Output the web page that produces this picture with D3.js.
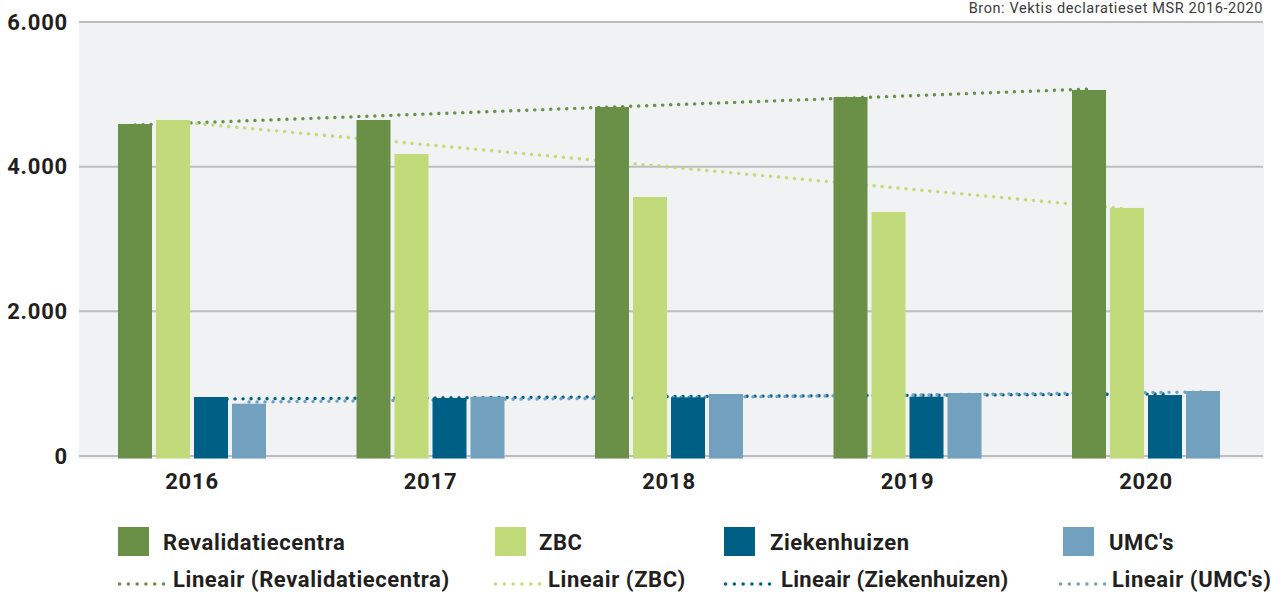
<!DOCTYPE html>
<html>
<head>
<meta charset="utf-8">
<script src="https://cdn.jsdelivr.net/npm/d3@7"></script>
<style>
  body { margin: 0; background: #fff; }
  svg { display: block; font-family: Roboto, "Noto Sans", sans-serif; }
</style>
</head>
<body>
<div id="chart"></div>
<script>
// data
const years = ["2016", "2017", "2018", "2019", "2020"];
const series = ["Revalidatiecentra", "ZBC", "Ziekenhuizen", "UMC's"];
const revalidatiecentra = [4590, 4645, 4825, 4963, 5060];
const zbc = [4645, 4175, 3581, 3373, 3429];
const ziekenhuizen = [816, 802, 811, 820, 843];
const umcs = [723, 820, 857, 871, 899];
// trendline values at first and last year
const trendFrom = [4576, 4626, 788, 746];
const trendTo = [5074, 3414, 857, 885];
const yTicks = [0, 2000, 4000, 6000];

const colors = ["#6a8f46", "#c1da7a", "#005f85", "#72a0bf"];
const values = [revalidatiecentra, zbc, ziekenhuizen, umcs];

const width = 1271, height = 594;
const plot = {left: 79, right: 1264, top: 22, bottom: 456};

const svg = d3.select("#chart")
    .append("svg")
    .attr("width", width)
    .attr("height", height);

const x0 = d3.scaleBand()
    .domain(years)
    .range([72.75, 1265.25])
    .paddingInner(0.3795)
    .paddingOuter(0.3795 / 2);

const x1 = d3.scaleBand()
    .domain(series)
    .range([0, x0.bandwidth()])
    .paddingInner(4 / 38);

const y = d3.scaleLinear()
    .domain([0, 6000])
    .range([plot.bottom, plot.top]);

const nl = d3.formatLocale({decimal: ",", thousands: ".", grouping: [3], currency: ["", ""]});

// plot background
svg.append("rect")
    .attr("x", plot.left)
    .attr("y", plot.top)
    .attr("width", plot.right - plot.left)
    .attr("height", plot.bottom - plot.top + 3)
    .attr("fill", "#f1f2f4");

// gridlines
svg.append("g")
    .selectAll("line")
    .data(yTicks)
    .enter().append("line")
    .attr("x1", plot.left)
    .attr("x2", plot.right - 1)
    .attr("y1", (d) => y(d))
    .attr("y2", (d) => y(d))
    .attr("stroke", "#bdbdbf")
    .attr("stroke-width", 2);

// y axis labels
const yAxis = svg.append("g")
    .attr("transform", "translate(" + plot.left + ",0)")
    .call(d3.axisLeft(y).tickValues(yTicks).tickSize(0).tickPadding(11).tickFormat(nl.format(",")));
yAxis.select(".domain").remove();
yAxis.selectAll("text")
    .attr("font-family", "Roboto, sans-serif")
    .attr("font-size", 22)
    .attr("font-weight", "bold")
    .attr("letter-spacing", 0.8)
    .attr("fill", "#231f20");

// trendlines, drawn behind the bars
const trendX = (i, s) => x0(years[i]) + x1(s) + x1.bandwidth() / 2;
const dotted = (sel) => sel
    .attr("stroke-width", 3.4)
    .attr("stroke-linecap", "round")
    .attr("stroke-dasharray", "0.1 7.9")
    .attr("fill", "none");

svg.append("g")
    .selectAll("line")
    .data(series)
    .enter().append("line")
    .attr("x1", (s) => trendX(0, s))
    .attr("x2", (s) => trendX(years.length - 1, s))
    .attr("y1", (s, i) => y(trendFrom[i]))
    .attr("y2", (s, i) => y(trendTo[i]))
    .attr("stroke", (s, i) => colors[i])
    .call(dotted);

// bars
const groups = svg.append("g")
    .selectAll("g")
    .data(years)
    .enter().append("g")
    .attr("transform", (d) => "translate(" + x0(d) + ",0)");

groups.selectAll("rect")
    .data((d, j) => series.map((s, i) => ({s: s, i: i, v: values[i][j]})))
    .enter().append("rect")
    .attr("x", (d) => x1(d.s))
    .attr("width", x1.bandwidth())
    .attr("y", (d) => y(d.v))
    .attr("height", (d) => y(0) - y(d.v) + 2.5)
    .attr("fill", (d) => colors[d.i]);

// x axis labels
const xAxis = svg.append("g")
    .attr("transform", "translate(0," + plot.bottom + ")")
    .call(d3.axisBottom(x0).tickSize(0).tickPadding(17));
xAxis.select(".domain").remove();
xAxis.selectAll("text")
    .attr("font-family", "Roboto, sans-serif")
    .attr("font-size", 22)
    .attr("font-weight", "bold")
    .attr("letter-spacing", 0.8)
    .attr("fill", "#231f20");

// source
svg.append("text")
    .attr("x", 1263)
    .attr("y", 13)
    .attr("text-anchor", "end")
    .attr("font-size", 14.5)
    .attr("letter-spacing", 0.6)
    .attr("fill", "#3a3a3a")
    .text("Bron: Vektis declaratieset MSR 2016-2020");

// legend
const legendBox = [118, 495, 724, 1063];
const legendText = [163, 539, 770, 1109];
const legendDots = [118, 494, 724, 1059];
const legendLine = [173, 548, 781, 1112];

const legend = svg.append("g");
series.forEach((s, i) => {
    legend.append("rect")
        .attr("x", legendBox[i])
        .attr("y", 527)
        .attr("width", 31)
        .attr("height", 29)
        .attr("fill", colors[i]);
    legend.append("text")
        .attr("x", legendText[i])
        .attr("y", 550)
        .attr("font-size", 22)
        .attr("font-weight", "bold")
        .attr("letter-spacing", 0.6)
        .attr("fill", "#231f20")
        .text(s);
    legend.append("line")
        .attr("x1", legendDots[i] + 1.5)
        .attr("x2", legendDots[i] + 46)
        .attr("y1", 584)
        .attr("y2", 584)
        .attr("stroke", colors[i])
        .call(dotted)
        .attr("stroke-dasharray", "0.1 8.7");
    legend.append("text")
        .attr("x", legendLine[i])
        .attr("y", 587)
        .attr("font-size", 22)
        .attr("font-weight", "bold")
        .attr("letter-spacing", i === 2 ? 0.3 : 0.6)
        .attr("fill", "#231f20")
        .text("Lineair (" + s + ")");
});
</script>
</body>
</html>
